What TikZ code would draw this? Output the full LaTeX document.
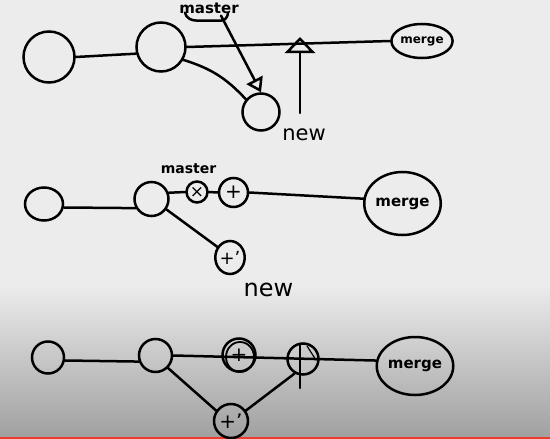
\documentclass[tikz,border=0pt]{standalone}
\usepackage{fontspec}
\setmainfont{DejaVu Sans}
\usetikzlibrary{arrows.meta,positioning,shapes.geometric}
\definecolor{board}{RGB}{236,236,236}
\definecolor{boardshade}{RGB}{160,160,160}
\definecolor{playred}{RGB}{236,60,44}
\newcommand{\pts}[1]{\fontsize{#1}{#1}\selectfont}

\begin{document}
\begin{tikzpicture}[x=1pt,y=-1pt,line width=2.5pt,line cap=round,
    commit/.style={draw,circle,inner sep=0pt},
    oval/.style={draw,ellipse,inner sep=0pt}]
  \useasboundingbox (0,0) rectangle (550,439);
  \fill[board] (0,0) rectangle (550,439);
  \shade[top color=board,bottom color=boardshade] (0,285) rectangle (550,437);
  \fill[playred] (0,436.5) rectangle (550,439);

  % first sketch
  \node[commit,minimum size=51pt] (a1) at (49,57) {};
  \node[commit,minimum size=49pt] (b1) at (161,47) {};
  \node[commit,minimum size=37pt] (c1) at (261,112) {};
  \node[oval,minimum width=51pt,minimum height=34pt,font=\pts{12}\bfseries] (m1) at (422,41) {merge};
  \node[inner sep=1pt,font=\pts{15}\bfseries] (mst1) at (209,8) {master};
  \node[font=\pts{21}] (new1) at (304,135) {new};
  \coordinate (newfoot) at (300,113);
  \coordinate (newtip) at (300,37);
  \draw (a1.east) -- (b1.195);
  \draw (b1.east) -- (m1.west);
  \draw (b1.-30) to[bend left=15] (c1.140);
  \draw ([shift={(-24pt,3pt)}]mst1.south) to[out=-80,in=180] ([shift={(-12pt,-5pt)}]mst1.south)
    -- ([shift={(12pt,-5pt)}]mst1.south) to[out=0,in=-100] ([shift={(19pt,2pt)}]mst1.south);
  \draw[-{Triangle[open,length=14pt,width=18pt]}] ([xshift=12pt]mst1.south) -- (c1.north);
  \draw[-{Triangle[open,length=16pt,width=30pt]}] (newfoot) -- (newtip);

  % second sketch
  \node[oval,minimum width=38pt,minimum height=33pt] (a2) at (44,204) {};
  \node[commit,minimum size=34pt] (b2) at (151.5,199) {};
  \node[commit,minimum size=21pt,font=\pts{17}] (x2) at (197,192) {×};
  \node[commit,minimum size=29pt,font=\pts{20}] (p2) at (233.5,192.5) {+};
  \node[oval,minimum width=68pt,minimum height=63pt,font=\pts{15}\bfseries] (m2) at (402.5,203.5) {merge};
  \node[oval,minimum width=29pt,minimum height=33pt,font=\pts{18}] (q2) at (230,257.5) {+'};
  \node[font=\pts{14}\bfseries] (mst2) at (188.5,169) {master};
  \node[font=\pts{24}] (new2) at (268.5,289.5) {new};
  \draw (a2.-10) -- (b2.-150);
  \draw (b2.20) -- (x2.west);
  \draw (x2.east) -- (p2.west);
  \draw (p2.east) -- (m2.173);
  \draw (b2.-35) -- (q2.140);

  % third sketch
  \node[commit,minimum size=32pt] (a3) at (48,357.5) {};
  \node[commit,minimum size=33pt] (b3) at (155.5,355.5) {};
  \node[commit,minimum size=33pt,font=\pts{20}] (p3) at (239,355) {+};
  \node[commit,minimum size=31pt] (x3) at (303,359) {};
  \node[oval,minimum width=68pt,minimum height=58pt,font=\pts{15}\bfseries] (m3) at (415,366) {merge};
  \node[commit,minimum size=34pt,font=\pts{20}] (q3) at (231,421) {+'};
  \draw (a3.-10) -- (b3.-160);
  \draw (b3.east) -- (m3.172);
  \draw (b3.-45) -- (q3.145);
  \draw (q3.35) -- (x3.-120);
  \draw[line width=1.8pt] ([shift={(1pt,-2pt)}]p3.center) ellipse[x radius=14pt,y radius=15pt];
  \draw ([shift={(-3pt,14pt)}]x3.center) -- ([shift={(-3pt,-29pt)}]x3.center);
  \draw[line width=1.2pt] ([shift={(4pt,13pt)}]x3.center) -- ([shift={(13pt,-1pt)}]x3.center);
\end{tikzpicture}
\end{document}
